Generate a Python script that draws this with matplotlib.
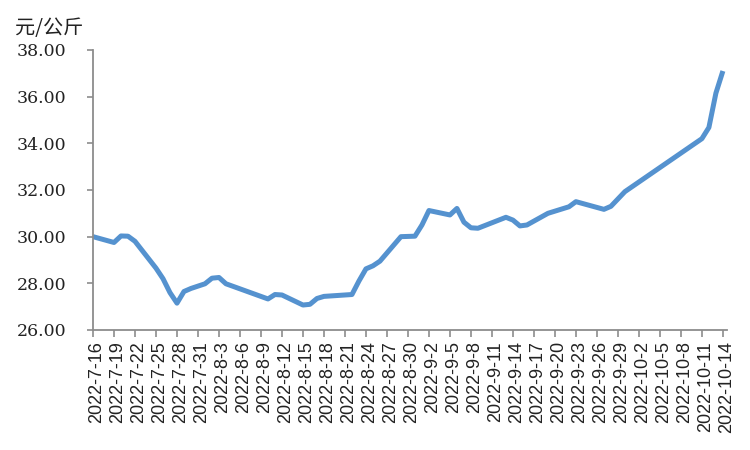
import matplotlib
matplotlib.use("Agg")
import matplotlib.pyplot as plt
import matplotlib.transforms as mtransforms
import pandas as pd

# ---- data ----
dates = ["2022-7-16", "2022-7-19", "2022-7-20", "2022-7-21", "2022-7-22",
         "2022-7-25", "2022-7-26", "2022-7-27", "2022-7-28", "2022-7-29",
         "2022-7-30", "2022-8-1", "2022-8-2", "2022-8-3", "2022-8-4",
         "2022-8-10", "2022-8-11", "2022-8-12", "2022-8-15", "2022-8-16",
         "2022-8-17", "2022-8-18", "2022-8-22", "2022-8-23", "2022-8-24",
         "2022-8-25", "2022-8-26", "2022-8-29", "2022-8-31", "2022-9-1",
         "2022-9-2", "2022-9-5", "2022-9-6", "2022-9-7", "2022-9-8",
         "2022-9-9", "2022-9-13", "2022-9-14", "2022-9-15", "2022-9-16",
         "2022-9-19", "2022-9-22", "2022-9-23", "2022-9-27", "2022-9-28",
         "2022-9-30", "2022-10-11", "2022-10-12", "2022-10-13", "2022-10-14"]
prices = [30.00, 29.75, 30.03, 30.02, 29.80,
          28.65, 28.20, 27.60, 27.15, 27.65,
          27.78, 27.98, 28.22, 28.25, 27.98,
          27.33, 27.52, 27.50, 27.07, 27.10,
          27.35, 27.44, 27.52, 28.10, 28.62,
          28.75, 28.95, 30.00, 30.02, 30.50,
          31.12, 30.93, 31.21, 30.62, 30.38,
          30.36, 30.83, 30.71, 30.46, 30.50,
          31.00, 31.28, 31.50, 31.17, 31.30,
          31.93, 34.20, 34.68, 36.15, 37.10]

tick_labels = ["2022-7-16", "2022-7-19", "2022-7-22", "2022-7-25", "2022-7-28",
               "2022-7-31", "2022-8-3", "2022-8-6", "2022-8-9", "2022-8-12",
               "2022-8-15", "2022-8-18", "2022-8-21", "2022-8-24", "2022-8-27",
               "2022-8-30", "2022-9-2", "2022-9-5", "2022-9-8", "2022-9-11",
               "2022-9-14", "2022-9-17", "2022-9-20", "2022-9-23", "2022-9-26",
               "2022-9-29", "2022-10-2", "2022-10-5", "2022-10-8", "2022-10-11",
               "2022-10-14"]
y_ticks = [26, 28, 30, 32, 34, 36, 38]
unit_label = "元/公斤"

# ---- positions in days since the first date ----
start = pd.to_datetime(dates[0])
x = [(pd.to_datetime(d) - start).days for d in dates]
tick_x = [(pd.to_datetime(d) - start).days for d in tick_labels]

fig = plt.figure(figsize=(7.5, 4.5), dpi=100)
ax = fig.add_axes([0.124, 0.2667, 0.845, 0.6222])

ax.plot(x, prices, color="#5592CF", lw=3.6, solid_joinstyle="round",
        solid_capstyle="butt")

ax.set_xlim(0, 90.55)
ax.set_ylim(26, 38)

for s in ["top", "right"]:
    ax.spines[s].set_visible(False)
for s in ["left", "bottom"]:
    ax.spines[s].set_color("#8c8c8c")
    ax.spines[s].set_linewidth(1.3)

ax.set_yticks(y_ticks)
ax.set_yticklabels([f"{v:.2f}" for v in y_ticks], family="DejaVu Serif",
                   fontsize=12.5, color="#222222")
ax.tick_params(axis="y", length=4, width=1.2, color="#8c8c8c", pad=15)

ax.set_xticks(tick_x)
ax.set_xticklabels(tick_labels, rotation=90, family="Liberation Sans",
                   fontsize=13, color="#222222", va="top", ha="center")
ax.tick_params(axis="x", length=5, width=1.2, color="#8c8c8c", pad=3)
offset = mtransforms.ScaledTranslation(4 / 100, 0, fig.dpi_scale_trans)
for lab in ax.get_xticklabels():
    lab.set_transform(lab.get_transform() + offset)

fig.text(15 / 750, 1 - 39 / 450, unit_label, family=["Noto Sans CJK SC", "DejaVu Sans"],
         fontsize=14.5, color="#222222", va="bottom", ha="left")

fig.savefig("out.png", dpi=100, facecolor="white")
